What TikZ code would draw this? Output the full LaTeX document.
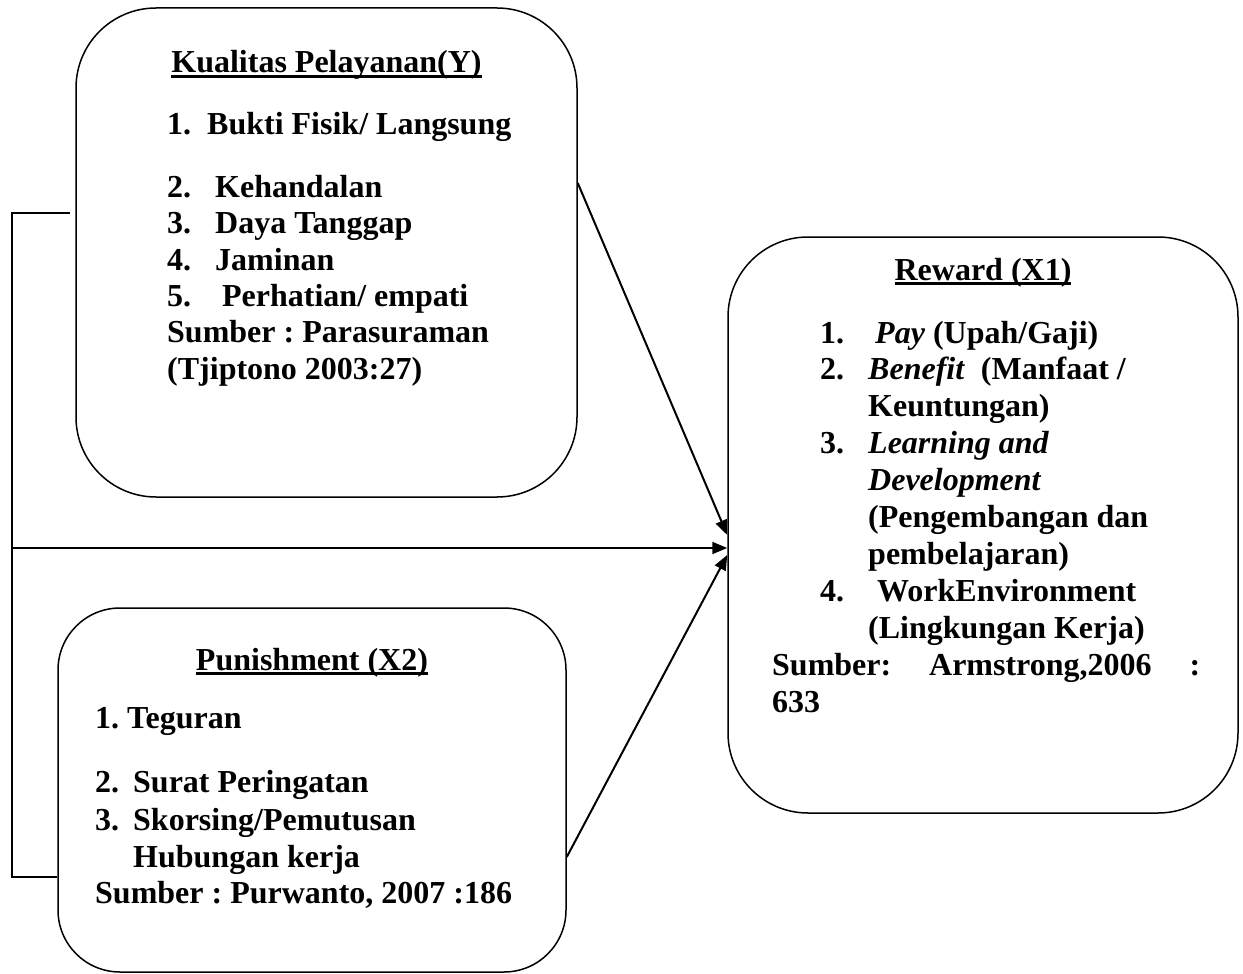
\documentclass[tikz,border=0pt]{standalone}
\usepackage{fontspec}
\setmainfont{Liberation Serif}
\usetikzlibrary{arrows.meta}
\frenchspacing
\newcommand{\ultitle}[1]{\setbox0\hbox{#1}\rlap{\rule[-5pt]{\wd0}{3pt}}\box0}
\begin{document}
\begin{tikzpicture}[x=1pt,y=-1pt,
  box/.style={draw,line width=1.5pt,rectangle,inner sep=0pt},
  txt/.style={anchor=base west,inner sep=0pt,font=\fontsize{32}{37}\selectfont\bfseries},
  ttl/.style={anchor=base,inner sep=0pt,font=\fontsize{32}{37}\selectfont\bfseries},
  conn/.style={line width=2pt},
  arr/.style={conn,-{Triangle[length=15pt,width=12pt]}}]
\useasboundingbox (0,0) rectangle (1243,974);

% boxes
\node[box,minimum width=501pt,minimum height=489pt,rounded corners=80pt] (Y) at (326.5,252.5) {};
\node[box,minimum width=510pt,minimum height=576pt,rounded corners=80pt] (R) at (983,525) {};
\node[box,minimum width=508pt,minimum height=364pt,rounded corners=62pt] (P) at (312,790) {};

% Kualitas Pelayanan text
\node[ttl] (yt) at (326.5,73) {\ultitle{Kualitas Pelayanan(Y)}};
\node[txt] (y1) at (167,134) {\makebox[40pt][l]{1.}Bukti Fisik/ Langsung};
\node[txt] (y2) at (167,197) {\makebox[48pt][l]{2.}Kehandalan};
\node[txt] (y3) at (167,233) {\makebox[48pt][l]{3.}Daya Tanggap};
\node[txt] (y4) at (167,270) {\makebox[48pt][l]{4.}Jaminan};
\node[txt] (y5) at (167,306) {\makebox[55pt][l]{5.}Perhatian/ empati};
\node[txt] (y6) at (167,342) {Sumber : Parasuraman};
\node[txt] (y7) at (167,379) {(Tjiptono 2003:27)};

% Reward text
\node[ttl] (rt) at (983,280) {\ultitle{Reward (X1)}};
\node[txt] (r1) at (820,343) {\makebox[55pt][l]{1.}\textit{Pay} (Upah/Gaji)};
\node[txt] (r2) at (820,379) {\makebox[48pt][l]{2.}\textit{Benefit}\ \ (Manfaat /};
\node[txt] (r3) at (868,416) {Keuntungan)};
\node[txt] (r4) at (820,453) {\makebox[48pt][l]{3.}\textit{Learning and}};
\node[txt] (r5) at (868,490) {\textit{Development}};
\node[txt] (r6) at (868,527) {(Pengembangan dan};
\node[txt] (r7) at (868,564) {pembelajaran)};
\node[txt] (r8) at (820,601) {\makebox[57pt][l]{4.}WorkEnvironment};
\node[txt] (r9) at (868,638) {(Lingkungan Kerja)};
\node[txt] (r10) at (772,675) {\hbox to 428pt{Sumber:\hfill Armstrong,2006\hfill :}};
\node[txt] (r11) at (772,712) {633};

% Punishment text
\node[ttl] (pt) at (312,670) {\ultitle{Punishment (X2)}};
\node[txt] (p1) at (95,728) {1. Teguran};
\node[txt] (p2) at (95,792) {\makebox[38pt][l]{2.}Surat Peringatan};
\node[txt] (p3) at (95,830) {\makebox[38pt][l]{3.}Skorsing/Pemutusan};
\node[txt] (p4) at (133,867) {Hubungan kerja};
\node[txt] (p5) at (95,903) {Sumber : Purwanto, 2007 :186};

% connector points
\coordinate (a1s) at (Y.east |- 0,183);
\coordinate (a1e) at (R.west |- 0,535);
\coordinate (a2e) at (R.west |- 0,548);
\coordinate (a3s) at (P.east |- 0,857);
\coordinate (a3e) at (R.west |- 0,555);
\coordinate (bt) at (70,213);
\coordinate (bl) at (12,213);
\coordinate (bm) at (12,548);
\coordinate (bb) at (12,877);
\coordinate (pb) at (P.west |- 0,877);

% connectors
\draw[conn] (bt) -- (bl) -- (bb) -- (pb);
\draw[arr] (bm) -- (a2e);
\draw[arr] (a1s) -- (a1e);
\draw[arr] (a3s) -- (a3e);
\end{tikzpicture}
\end{document}
